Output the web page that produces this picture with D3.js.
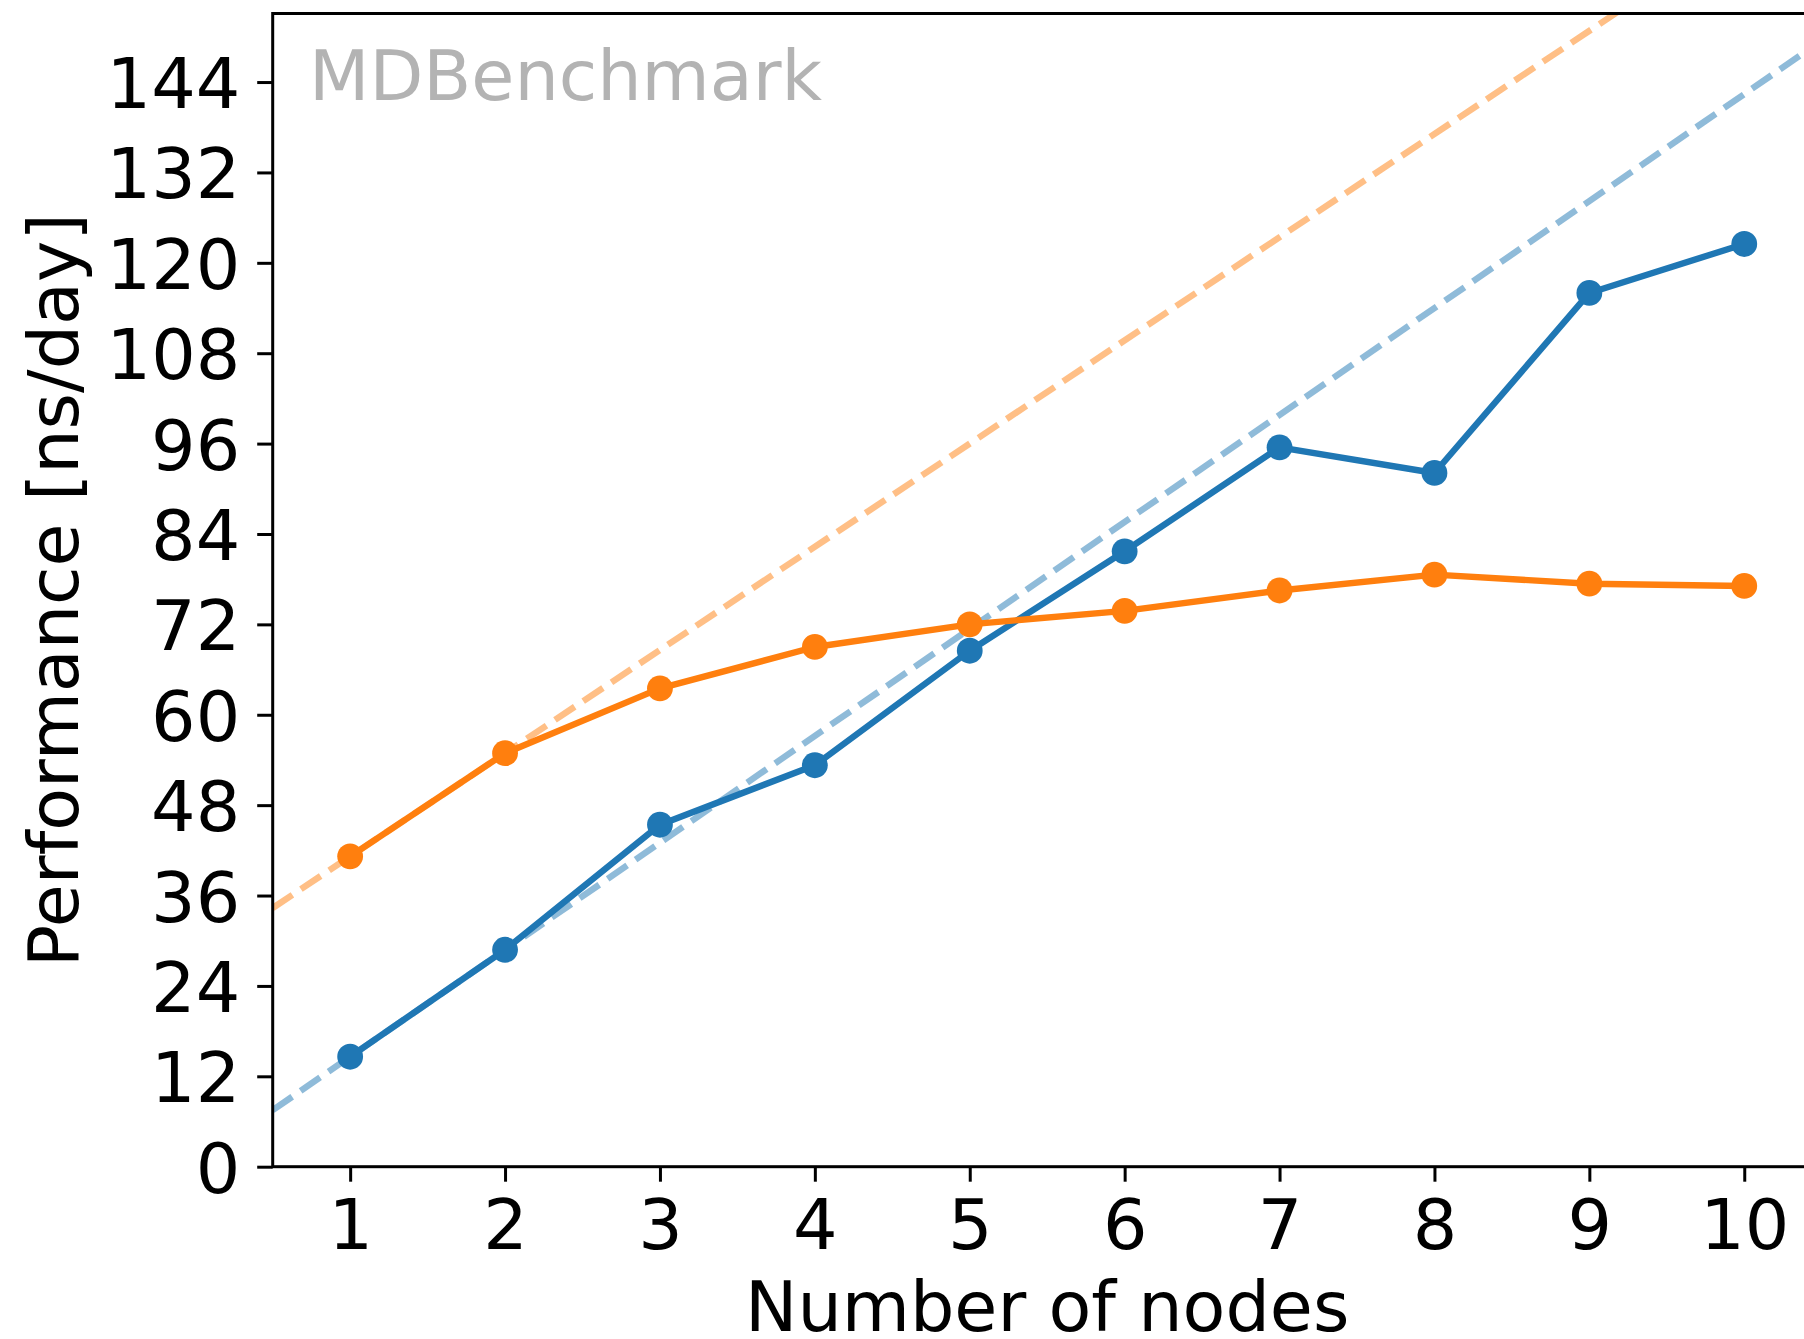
<!DOCTYPE html>
<html>
<head>
<meta charset="utf-8">
<script src="https://cdn.jsdelivr.net/npm/d3@7"></script>
<style>
  html, body { margin: 0; padding: 0; background: #fff; }
  svg { display: block; font-family: "DejaVu Sans", sans-serif; }
</style>
</head>
<body>
<svg id="chart" width="1804" height="1339"></svg>
<script>
// ---- data ----
const nodes = [1, 2, 3, 4, 5, 6, 7, 8, 9, 10];
const perfBlue = [14.6, 28.8, 45.4, 53.3, 68.5, 81.7, 95.5, 92.1, 116.0, 122.5];
const perfOrange = [41.2, 54.9, 63.5, 69.0, 72.0, 73.8, 76.5, 78.6, 77.4, 77.1];
const xTicks = [1, 2, 3, 4, 5, 6, 7, 8, 9, 10];
const yTicks = [0, 12, 24, 36, 48, 60, 72, 84, 96, 108, 120, 132, 144];
const xDomain = [0.5, 10.5];
const yDomain = [0, 153.1];
const seriesColors = ["#1f77b4", "#ff7f0e"];
const watermark = "MDBenchmark";
const xLabel = "Number of nodes";
const yLabel = "Performance [ns/day]";

// ---- layout ----
const svg = d3.select("#chart");
const pLeft = 272.7, pTop = 13.5, pRight = 1821.7, pBottom = 1166.7;
const fontSize = 70;
const lw = 6.4;

const x = d3.scaleLinear().domain(xDomain).range([pLeft, pRight]);
const y = d3.scaleLinear().domain(yDomain).range([pBottom, pTop]);

svg.append("defs").append("clipPath").attr("id", "plotclip")
  .append("rect").attr("x", pLeft).attr("y", pTop)
  .attr("width", pRight - pLeft).attr("height", pBottom - pTop);

const plot = svg.append("g").attr("clip-path", "url(#plotclip)");

const series = [
  { values: perfBlue, color: seriesColors[0] },
  { values: perfOrange, color: seriesColors[1] }
];

// linear-scaling reference lines through the first two points
series.forEach(s => {
  const slope = (s.values[1] - s.values[0]) / (nodes[1] - nodes[0]);
  const icpt = s.values[0] - slope * nodes[0];
  const pts = xDomain.map(n => [n, icpt + slope * n]);
  plot.append("path")
    .attr("d", d3.line().x(d => x(d[0])).y(d => y(d[1]))(pts))
    .attr("fill", "none")
    .attr("stroke", s.color)
    .attr("stroke-opacity", 0.5)
    .attr("stroke-width", lw)
    .attr("stroke-dasharray", `${3.7 * lw},${1.6 * lw}`);
});

const line = d3.line().x((d, i) => x(nodes[i])).y(d => y(d));
series.forEach(s => {
  plot.append("path")
    .attr("d", line(s.values))
    .attr("fill", "none")
    .attr("stroke", s.color)
    .attr("stroke-width", lw)
    .attr("stroke-linejoin", "round");
  plot.selectAll(null).data(s.values).enter().append("circle")
    .attr("cx", (d, i) => x(nodes[i]))
    .attr("cy", d => y(d))
    .attr("r", 12.9)
    .attr("fill", s.color);
});

// ---- axes ----
const yAxis = d3.axisLeft(y).tickValues(yTicks).tickSize(15.5).tickSizeOuter(0).tickPadding(17)
  .tickFormat(d3.format("d"));
const gy = svg.append("g").attr("transform", `translate(${pLeft},0)`).call(yAxis);
gy.select(".domain").remove();
gy.selectAll(".tick line").attr("stroke", "#000").attr("stroke-width", 3);
gy.selectAll(".tick text").attr("font-size", fontSize).attr("fill", "#000")
  .attr("font-family", "DejaVu Sans").attr("dy", "0.365em");

const xAxis = d3.axisBottom(x).tickValues(xTicks).tickSize(15).tickSizeOuter(0).tickPadding(17.5)
  .tickFormat(d3.format("d"));
const gx = svg.append("g").attr("transform", `translate(0,${pBottom})`).call(xAxis);
gx.select(".domain").remove();
gx.selectAll(".tick line").attr("stroke", "#000").attr("stroke-width", 3);
gx.selectAll(".tick text").attr("font-size", fontSize).attr("fill", "#000")
  .attr("font-family", "DejaVu Sans");

// frame (spines)
svg.append("rect")
  .attr("x", pLeft).attr("y", pTop)
  .attr("width", pRight - pLeft).attr("height", pBottom - pTop)
  .attr("fill", "none").attr("stroke", "#000").attr("stroke-width", 3);

// ---- labels ----
svg.append("text")
  .attr("x", (pLeft + pRight) / 2).attr("y", 1331)
  .attr("text-anchor", "middle").attr("font-size", fontSize).attr("fill", "#000")
  .text(xLabel);

svg.append("text")
  .attr("transform", `translate(77.5,${(pTop + pBottom) / 2}) rotate(-90)`)
  .attr("text-anchor", "middle").attr("font-size", fontSize).attr("fill", "#000")
  .text(yLabel);

svg.append("text")
  .attr("x", 309).attr("y", 100)
  .attr("font-size", fontSize).attr("fill", "#b3b3b3")
  .text(watermark);
</script>
</body>
</html>
